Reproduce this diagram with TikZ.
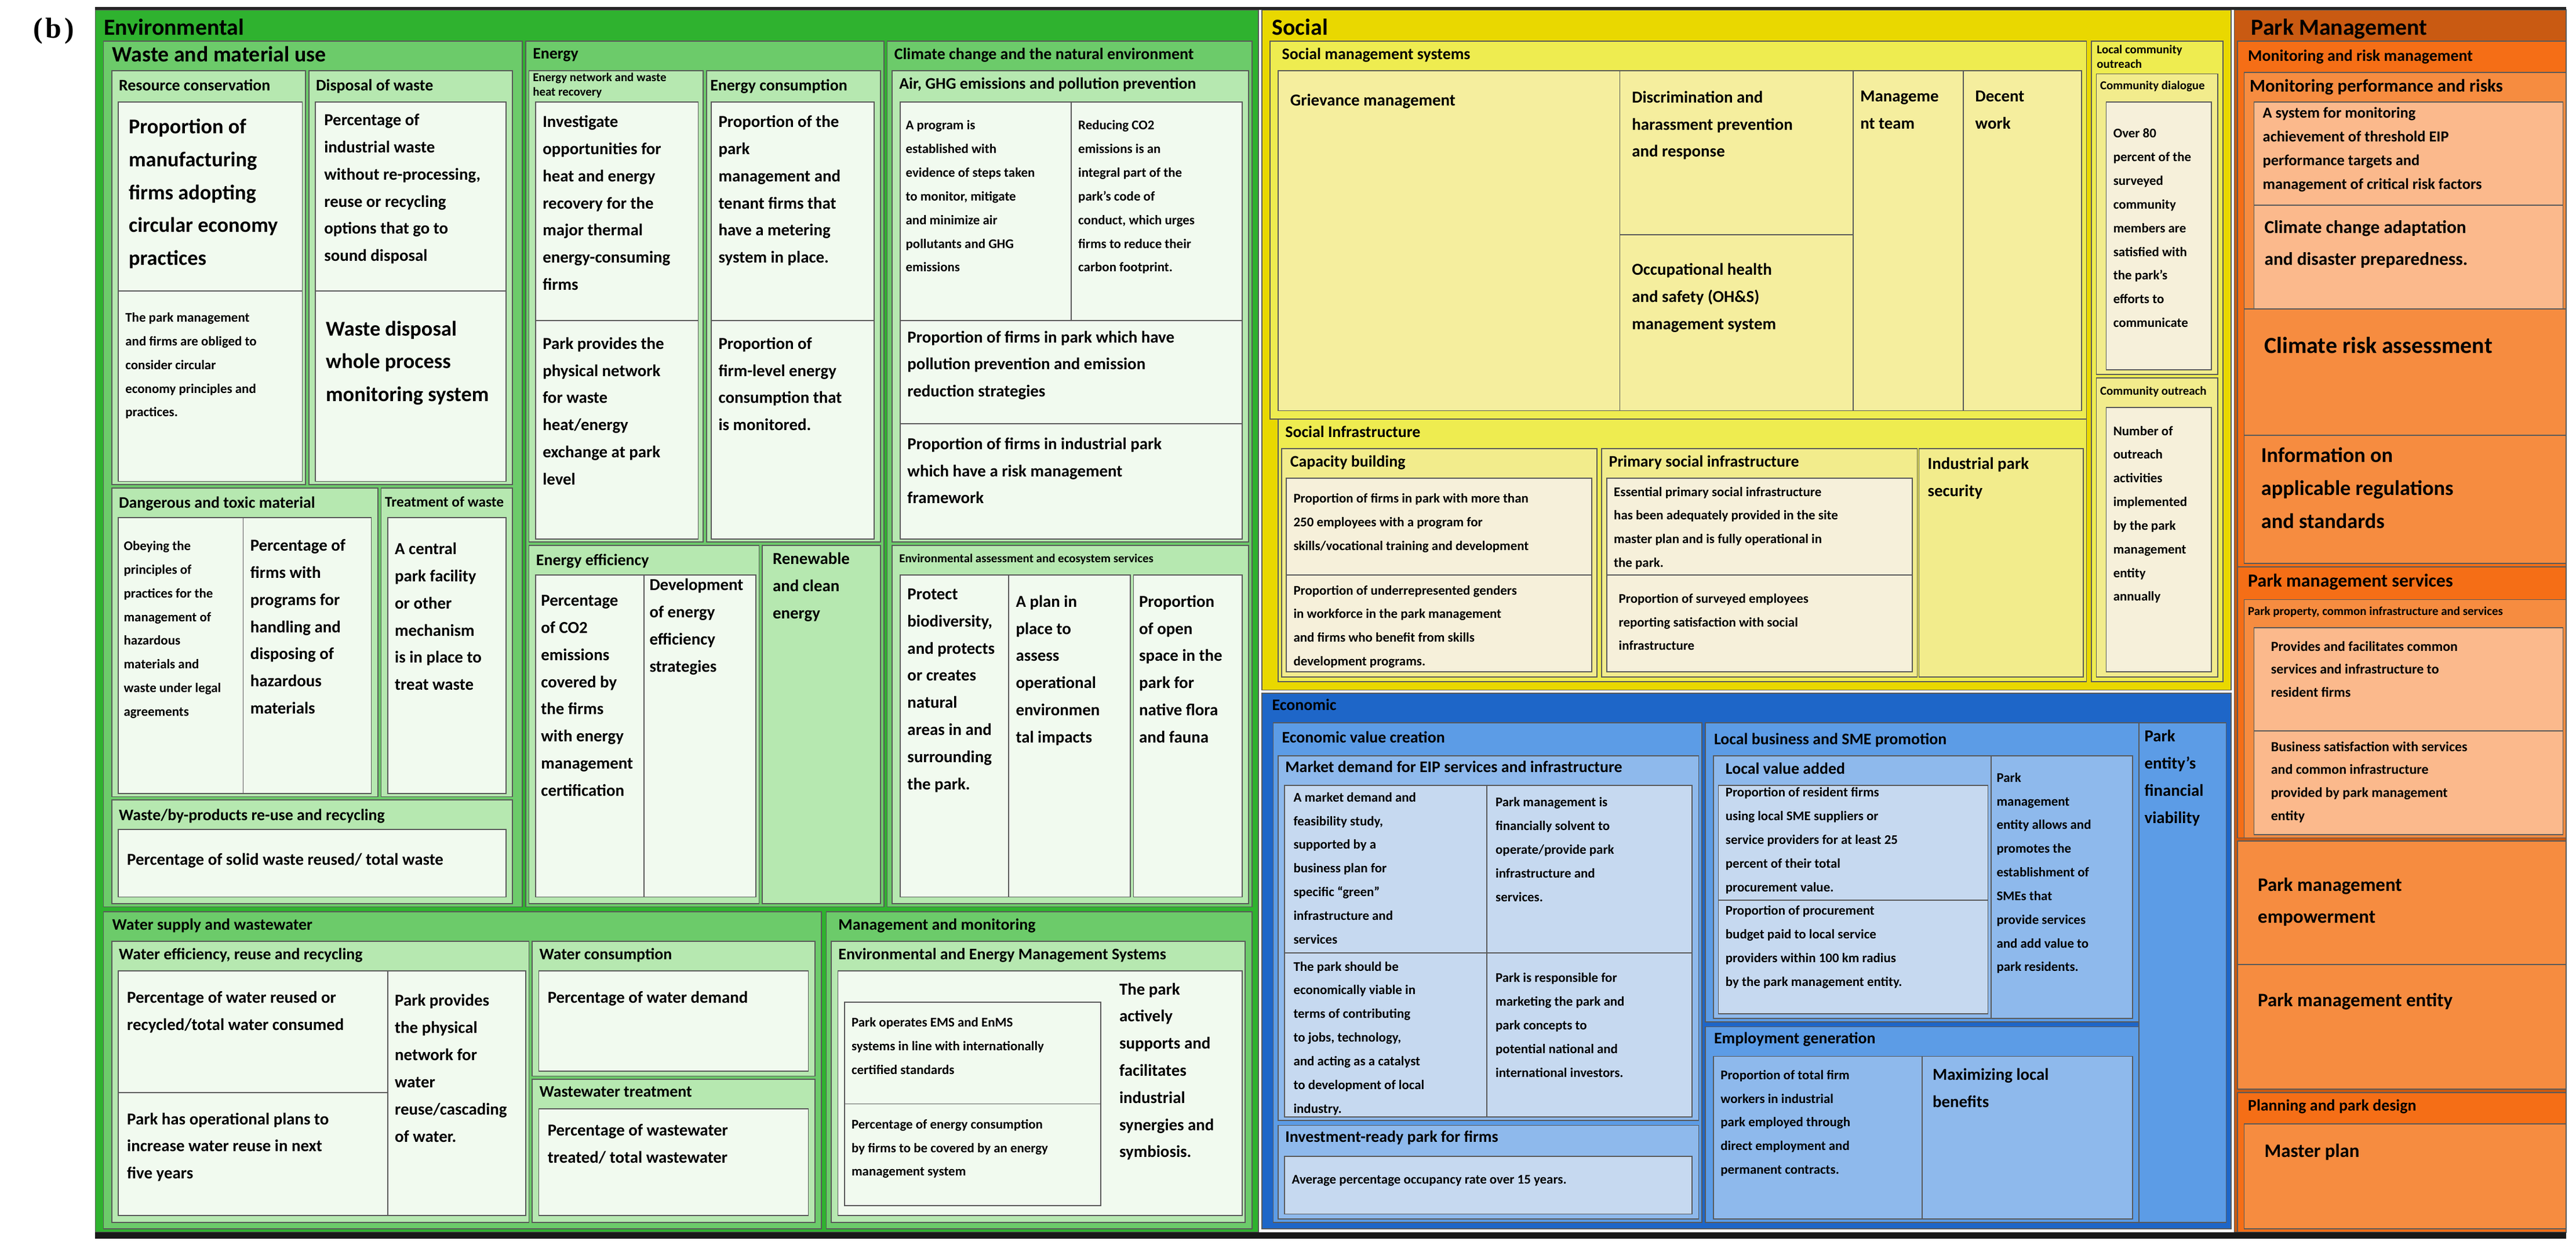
\documentclass[tikz,border=0pt]{standalone}
\usepackage{fontspec}
\setmainfont{Carlito}
\newfontfamily\serifb{Liberation Serif}
\definecolor{eA}{HTML}{2FB22F}\definecolor{eB}{HTML}{6CCB6A}\definecolor{eC}{HTML}{B6E8B0}\definecolor{eL}{HTML}{F1FAEF}
\definecolor{sA}{HTML}{E9D800}\definecolor{sB}{HTML}{EEEC50}\definecolor{sC}{HTML}{F2EC8C}\definecolor{sL}{HTML}{F5EE9E}\definecolor{sP}{HTML}{F6F0DA}
\definecolor{cA}{HTML}{1E66C8}\definecolor{cB}{HTML}{5C9CE6}\definecolor{cC}{HTML}{8EB9EC}\definecolor{cL}{HTML}{C6D9F0}
\definecolor{pA}{HTML}{C95A12}\definecolor{pB}{HTML}{F56E16}\definecolor{pC}{HTML}{F68C40}\definecolor{pL}{HTML}{FBB98C}
\newcommand\bx[5]{\filldraw[fill=#5,draw=black!65,line width=0.35pt] (#1,#2) rectangle (#3,#4);}
\newcommand\tx[4]{\node[#3] at (#1,#2) {#4};}
\tikzset{
 tb/.style={anchor=north west,inner sep=0pt,align=left},
 hd/.style={tb,font=\bfseries\fontsize{8}{9}\selectfont},
 ltw/.style={tb,font=\bfseries\fontsize{7.6}{9}\selectfont},
 lth/.style={tb,font=\bfseries\fontsize{5.6}{6.6}\selectfont},
 tiny/.style={tb,font=\bfseries\fontsize{4.2}{5}\selectfont},
 big/.style={tb,font=\bfseries\fontsize{7.3}{11.4}\selectfont},
 mid/.style={tb,font=\bfseries\fontsize{5.8}{9.4}\selectfont},
 sm/.style={tb,font=\bfseries\fontsize{4.6}{8.2}\selectfont},
}
\begin{document}
\begin{tikzpicture}[x=0.02cm,y=-0.02cm]
\useasboundingbox (0,0) rectangle (1568,762);
\fill[white] (0,0) rectangle (1568,762);
\node[anchor=west,font=\serifb\bfseries\fontsize{10}{11}\selectfont] (lbl) at (14,19) {(\kern1pt b\kern1pt)};
% ===== Environmental
\bx{58}{6}{766}{750}{eA}
\tx{63}{11}{hd}{Environmental}
\bx{63}{25}{318}{552}{eB}\tx{68}{28}{ltw}{Waste and material use}
\bx{68}{43}{186}{295}{eC}\tx{72}{48}{lth}{Resource conservation}
\bx{72}{62}{184}{177}{eL}\tx{78}{72}{big}{Proportion of\\manufacturing\\firms adopting\\circular economy\\practices}
\bx{72}{177}{184}{293}{eL}\tx{76}{190}{sm}{The park management\\and firms are obliged to\\consider circular\\economy principles and\\practices.}
\bx{188}{43}{312}{295}{eC}\tx{192}{48}{lth}{Disposal of waste}
\bx{192}{62}{308}{177}{eL}\tx{197}{69}{mid}{Percentage of\\industrial waste\\without re-processing,\\reuse or recycling\\options that go to\\sound disposal}
\bx{192}{177}{308}{293}{eL}\tx{198}{195}{big}{Waste disposal\\whole process\\monitoring system}
\bx{68}{297}{230}{485}{eC}\tx{72}{302}{lth}{Dangerous and toxic material}
\bx{72}{315}{148}{483}{eL}\tx{75}{329}{sm}{Obeying the\\principles of\\practices for the\\management of\\hazardous\\materials and\\waste under legal\\agreements}
\bx{148}{315}{226}{483}{eL}\tx{152}{328}{mid}{Percentage of\\firms with\\programs for\\handling and\\disposing of\\hazardous\\materials}
\bx{232}{297}{312}{485}{eC}\tx{234}{302}{tb,font=\bfseries\fontsize{5.1}{6}\selectfont}{Treatment of waste}
\bx{236}{315}{308}{483}{eL}\tx{240}{330}{mid}{A central\\park facility\\or other\\mechanism\\is in place to\\treat waste}
\bx{68}{487}{312}{550}{eC}\tx{72}{492}{lth}{Waste/by-products re-use and recycling}
\bx{72}{505}{308}{546}{eL}\tx{77}{519}{mid}{Percentage of solid waste reused/ total waste}
% Energy
\bx{320}{25}{538}{552}{eB}\tx{324}{29}{lth}{Energy}
\bx{322}{43}{428}{330}{eC}\tx{324}{44}{tiny}{Energy network and waste\\heat recovery}
\bx{326}{62}{425}{195}{eL}\tx{330}{70}{mid}{Investigate\\opportunities for\\heat and energy\\recovery for the\\major thermal\\energy-consuming\\firms}
\bx{326}{195}{425}{328}{eL}\tx{330}{205}{mid}{Park provides the\\physical network\\for waste\\heat/energy\\exchange at park\\level}
\bx{430}{43}{536}{330}{eC}\tx{432}{48}{lth}{Energy consumption}
\bx{433}{62}{532}{195}{eL}\tx{437}{70}{mid}{Proportion of the\\park\\management and\\tenant firms that\\have a metering\\system in place.}
\bx{433}{195}{532}{328}{eL}\tx{437}{205}{mid}{Proportion of\\firm-level energy\\consumption that\\is monitored.}
\bx{322}{332}{462}{550}{eC}\tx{326}{337}{lth}{Energy efficiency}
\bx{326}{350}{392}{546}{eL}\tx{329}{362}{mid}{Percentage\\of CO2\\emissions\\covered by\\the firms\\with energy\\management\\certification}
\bx{392}{350}{460}{546}{eL}\tx{395}{352}{mid}{Development\\of energy\\efficiency\\strategies}
\bx{464}{332}{536}{550}{eC}\tx{470}{336}{mid}{Renewable\\and clean\\energy}
% Climate
\bx{540}{25}{762}{552}{eB}\tx{544}{29}{lth}{Climate change and the natural environment}
\bx{543}{43}{760}{330}{eC}\tx{547}{47}{lth}{Air, GHG emissions and pollution prevention}
\bx{548}{62}{652}{195}{eL}\tx{551}{73}{sm}{A program is\\established with\\evidence of steps taken\\to monitor, mitigate\\and minimize air\\pollutants and GHG\\emissions}
\bx{652}{62}{756}{195}{eL}\tx{656}{73}{sm}{Reducing CO2\\emissions is an\\integral part of the\\park’s code of\\conduct, which urges\\firms to reduce their\\carbon footprint.}
\bx{548}{195}{756}{258}{eL}\tx{552}{201}{mid}{Proportion of firms in park which have\\pollution prevention and emission\\reduction strategies}
\bx{548}{258}{756}{328}{eL}\tx{552}{266}{mid}{Proportion of firms in industrial park\\which have a risk management\\framework}
\bx{543}{332}{760}{550}{eC}\tx{547}{337}{tiny}{Environmental assessment and ecosystem services}
\bx{548}{350}{614}{546}{eL}\tx{552}{358}{mid}{Protect\\biodiversity,\\and protects\\or creates\\natural\\areas in and\\surrounding\\the park.}
\bx{614}{350}{688}{546}{eL}\tx{618}{362}{mid}{A plan in\\place to\\assess\\operational\\environmen\\tal impacts}
\bx{690}{350}{756}{546}{eL}\tx{693}{362}{mid}{Proportion\\of open\\space in the\\park for\\native flora\\and fauna}
% Water
\bx{63}{555}{500}{748}{eB}\tx{68}{559}{lth}{Water supply and wastewater}
\bx{68}{573}{322}{744}{eC}\tx{72}{577}{lth}{Water efficiency, reuse and recycling}
\bx{72}{591}{236}{665}{eL}\tx{77}{603}{mid}{Percentage of water reused or\\recycled/total water consumed}
\bx{72}{665}{236}{740}{eL}\tx{77}{677}{mid}{Park has operational plans to\\increase water reuse in next\\five years}
\bx{236}{591}{320}{740}{eL}\tx{240}{605}{mid}{Park provides\\the physical\\network for\\water\\reuse/cascading\\of water.}
\bx{324}{573}{496}{655}{eC}\tx{328}{577}{lth}{Water consumption}
\bx{328}{591}{492}{652}{eL}\tx{333}{603}{mid}{Percentage of water demand}
\bx{324}{657}{496}{744}{eC}\tx{328}{661}{lth}{Wastewater treatment}
\bx{328}{675}{492}{740}{eL}\tx{333}{684}{mid}{Percentage of wastewater\\treated/ total wastewater}
% Management and monitoring
\bx{503}{555}{762}{748}{eB}\tx{510}{559}{lth}{Management and monitoring}
\bx{506}{573}{758}{744}{eC}\tx{510}{577}{lth}{Environmental and Energy Management Systems}
\bx{510}{591}{756}{740}{eL}
\bx{514}{610}{670}{672}{eL}\tx{518}{619}{sm}{Park operates EMS and EnMS\\systems in line with internationally\\certified standards}
\bx{514}{672}{670}{734}{eL}\tx{518}{681}{sm}{Percentage of energy consumption\\by firms to be covered by an energy\\management system}
\tx{681}{598}{mid}{The park\\actively\\supports and\\facilitates\\industrial\\synergies and\\symbiosis.}
% ===== Social
\bx{768}{6}{1358}{420}{sA}
\tx{774}{11}{hd}{Social}
\bx{773}{25}{1270}{255}{sB}\tx{780}{29}{lth}{Social management systems}
\bx{778}{43}{986}{250}{sL}\tx{785}{57}{mid}{Grievance management}
\bx{986}{43}{1128}{143}{sL}\tx{993}{55}{mid}{Discrimination and\\harassment prevention\\and response}
\bx{986}{143}{1128}{250}{sL}\tx{993}{160}{mid}{Occupational health\\and safety (OH\&S)\\management system}
\bx{1128}{43}{1195}{250}{sL}\tx{1132}{55}{mid}{Manageme\\nt team}
\bx{1195}{43}{1267}{250}{sL}\tx{1202}{55}{mid}{Decent\\work}
\bx{778}{255}{1270}{415}{sB}\tx{782}{259}{lth}{Social Infrastructure}
\bx{780}{273}{972}{412}{sC}\tx{785}{277}{lth}{Capacity building}
\bx{783}{291}{969}{350}{sP}\tx{787}{300}{sm}{Proportion of firms in park with more than\\250 employees with a program for\\skills/vocational training and development}
\bx{783}{350}{969}{409}{sP}\tx{787}{356}{sm}{Proportion of underrepresented genders\\in workforce in the park management\\and firms who benefit from skills\\development programs.}
\bx{975}{273}{1167}{412}{sC}\tx{979}{277}{lth}{Primary social infrastructure}
\bx{978}{291}{1164}{350}{sP}\tx{982}{296}{sm}{Essential primary social infrastructure\\has been adequately provided in the site\\master plan and is fully operational in\\the park.}
\bx{978}{350}{1164}{409}{sP}\tx{985}{361}{sm}{Proportion of surveyed employees\\reporting satisfaction with social\\infrastructure}
\bx{1168}{273}{1268}{412}{sC}\tx{1173}{278}{mid}{Industrial park\\security}
\bx{1273}{25}{1353}{415}{sB}\tx{1276}{27}{tiny}{Local community\\outreach}
\bx{1276}{45}{1350}{228}{sC}\tx{1278}{49}{tiny}{Community dialogue}
\bx{1282}{62}{1346}{225}{sP}\tx{1286}{78}{sm}{Over 80\\percent of the\\surveyed\\community\\members are\\satisfied with\\the park’s\\efforts to\\communicate}
\bx{1276}{230}{1350}{412}{sC}\tx{1278}{235}{tiny}{Community outreach}
\bx{1282}{248}{1346}{409}{sP}\tx{1286}{259}{sm}{Number of\\outreach\\activities\\implemented\\by the park\\management\\entity\\annually}
% ===== Economic
\bx{768}{422}{1358}{748}{cA}
\tx{774}{425}{lth}{Economic}
\bx{775}{440}{1036}{744}{cB}\tx{780}{445}{lth}{Economic value creation}
\bx{778}{460}{1034}{682}{cC}\tx{782}{463}{lth}{Market demand for EIP services and infrastructure}
\bx{782}{478}{905}{580}{cL}\tx{787}{482}{sm}{A market demand and\\feasibility study,\\supported by a\\business plan for\\specific “green”\\infrastructure and\\services}
\bx{905}{478}{1030}{580}{cL}\tx{910}{485}{sm}{Park management is\\financially solvent to\\operate/provide park\\infrastructure and\\services.}
\bx{782}{580}{905}{680}{cL}\tx{787}{585}{sm}{The park should be\\economically viable in\\terms of contributing\\to jobs, technology,\\and acting as a catalyst\\to development of local\\industry.}
\bx{905}{580}{1030}{680}{cL}\tx{910}{592}{sm}{Park is responsible for\\marketing the park and\\park concepts to\\potential national and\\international investors.}
\bx{778}{685}{1034}{742}{cC}\tx{782}{688}{lth}{Investment-ready park for firms}
\bx{782}{704}{1030}{739}{cL}\tx{786}{715}{sm}{Average percentage occupancy rate over 15 years.}
\bx{1038}{440}{1302}{622}{cB}\tx{1043}{446}{lth}{Local business and SME promotion}
\bx{1043}{460}{1212}{620}{cC}\tx{1050}{464}{lth}{Local value added}
\bx{1046}{478}{1210}{548}{cL}\tx{1050}{479}{sm}{Proportion of resident firms\\using local SME suppliers or\\service providers for at least 25\\percent of their total\\procurement value.}
\bx{1046}{548}{1210}{617}{cL}\tx{1050}{551}{sm}{Proportion of procurement\\budget paid to local service\\providers within 100 km radius\\by the park management entity.}
\bx{1212}{460}{1298}{620}{cC}\tx{1215}{470}{sm}{Park\\management\\entity allows and\\promotes the\\establishment of\\SMEs that\\provide services\\and add value to\\park residents.}
\bx{1038}{625}{1302}{744}{cB}\tx{1043}{628}{lth}{Employment generation}
\bx{1043}{643}{1170}{742}{cC}\tx{1047}{651}{sm}{Proportion of total firm\\workers in industrial\\park employed through\\direct employment and\\permanent contracts.}
\bx{1170}{643}{1298}{742}{cC}\tx{1176}{650}{mid}{Maximizing local\\benefits}
\bx{1302}{440}{1355}{744}{cB}\tx{1305}{444}{mid}{Park\\entity’s\\financial\\viability}
% ===== Park Management
\bx{1360}{6}{1562}{750}{pA}
\tx{1370}{11}{hd}{Park Management}
\bx{1362}{25}{1562}{345}{pB}\tx{1368}{30}{lth}{Monitoring and risk management}
\bx{1366}{44}{1562}{343}{pC}\tx{1369}{48}{tb,font=\bfseries\fontsize{6.2}{7}\selectfont}{Monitoring performance and risks}
\bx{1372}{62}{1560}{125}{pL}\tx{1377}{65}{sm,font=\bfseries\fontsize{5.3}{8.2}\selectfont}{A system for monitoring\\achievement of threshold EIP\\performance targets and\\management of critical risk factors}
\bx{1372}{125}{1560}{188}{pL}\tx{1378}{134}{mid,font=\bfseries\fontsize{6.3}{11}\selectfont}{Climate change adaptation\\and disaster preparedness.}
\bx{1366}{188}{1562}{265}{pC}\tx{1378}{205}{big,font=\bfseries\fontsize{8}{11}\selectfont}{Climate risk assessment}
\bx{1366}{265}{1562}{343}{pC}\tx{1376}{272}{big}{Information on\\applicable regulations\\and standards}
\bx{1362}{345}{1562}{510}{pB}\tx{1368}{349}{ltw,font=\bfseries\fontsize{6.4}{7.5}\selectfont}{Park management services}
\bx{1366}{365}{1562}{510}{pC}\tx{1368}{369}{tiny}{Park property, common infrastructure and services}
\bx{1372}{382}{1560}{445}{pL}\tx{1382}{390}{sm,font=\bfseries\fontsize{4.8}{8}\selectfont}{Provides and facilitates common\\services and infrastructure to\\resident firms}
\bx{1372}{445}{1560}{508}{pL}\tx{1382}{451}{sm,font=\bfseries\fontsize{4.8}{8}\selectfont}{Business satisfaction with services\\and common infrastructure\\provided by park management\\entity}
\bx{1362}{512}{1562}{587}{pC}\tx{1374}{534}{mid,font=\bfseries\fontsize{6.6}{11}\selectfont}{Park management\\empowerment}
\bx{1362}{587}{1562}{663}{pC}\tx{1374}{593}{mid,font=\bfseries\fontsize{6.6}{11}\selectfont}{\\Park management entity}
\bx{1362}{665}{1562}{750}{pB}\tx{1368}{669}{lth}{Planning and park design}
\bx{1366}{684}{1562}{748}{pC}\tx{1378}{696}{mid,font=\bfseries\fontsize{6.6}{11}\selectfont}{Master plan}
% frame lines
\draw[black!85,line width=1pt] (58,5) -- (1562,5);
\fill[black!90] (58,750) rectangle (1562,754);
\end{tikzpicture}
\end{document}
